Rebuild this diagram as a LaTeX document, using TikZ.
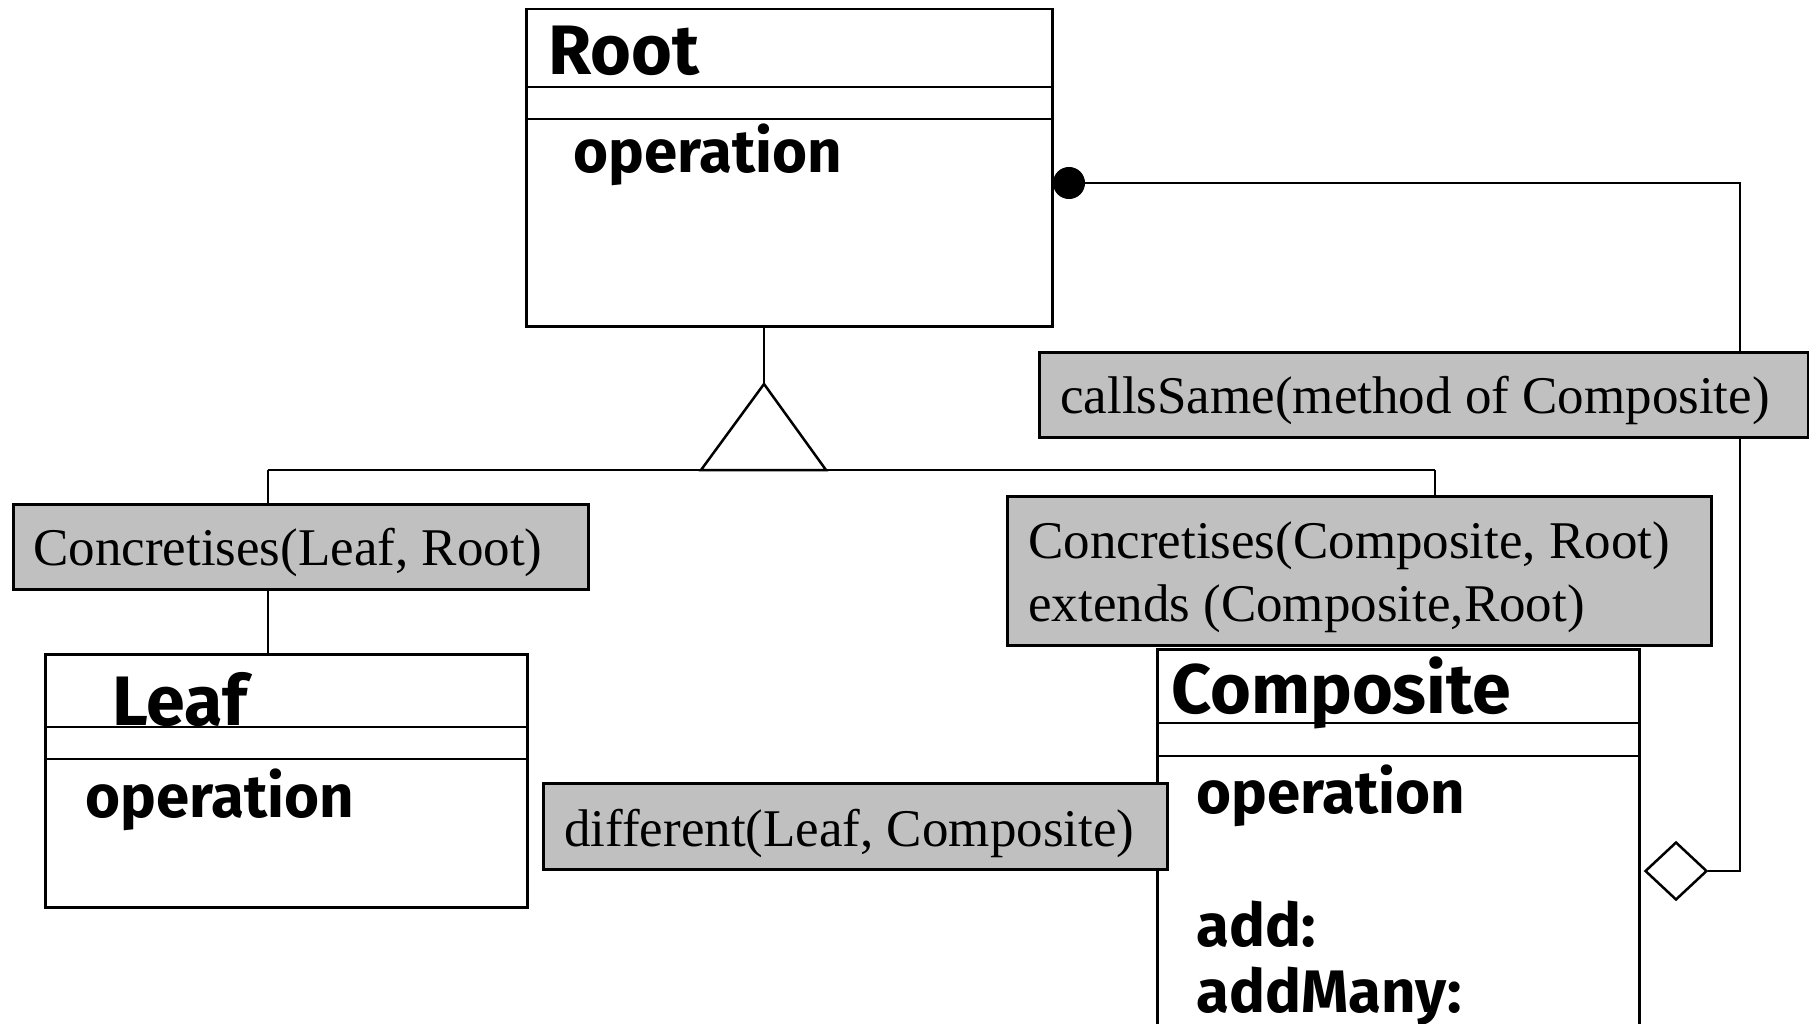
\documentclass[tikz,border=0pt]{standalone}
\usepackage{fontspec}
\setmainfont{Liberation Serif}
\newfontfamily\clsfont{Fira Sans}
\usetikzlibrary{shapes.geometric}
\definecolor{lblgray}{HTML}{C0C0C0}
\tikzset{
  every picture/.style={line width=2.5pt},
  classbox/.style={draw, line width=2.5pt, anchor=north west, inner sep=0pt},
  lblbox/.style={draw, fill=lblgray, line width=2.5pt, anchor=north west, inner sep=0pt},
  clsname/.style={anchor=base west, inner sep=0pt, font=\clsfont\bfseries\fontsize{70}{84}\selectfont},
  clsop/.style={anchor=base west, inner sep=0pt, font=\clsfont\bfseries\fontsize{60}{72}\selectfont},
  lbltext/.style={anchor=base west, inner sep=0pt, font=\fontsize{53}{64}\selectfont},
  conn/.style={draw, line width=2.5pt},
}
\begin{document}
\begin{tikzpicture}[x=1pt,y=-1pt]
\useasboundingbox (0,0) rectangle (1809,1024);
% class boxes
\node[classbox, minimum width=526pt, minimum height=317pt] (root) at (525,8) {};
\draw (525,87) -- (1051,87) (525,119) -- (1051,119);
\node[clsname] (rootname) at (547,75) {Root};
\node[clsop] (rootop) at (572,173) {operation};

\node[classbox, minimum width=482pt, minimum height=253pt] (leaf) at (44,653) {};
\draw (44,727) -- (526,727) (44,759) -- (526,759);
\node[clsname] (leafname) at (111,725) {Leaf};
\node[clsop] (leafop) at (84,817) {operation};

\node[classbox, minimum width=482pt, minimum height=420pt] (comp) at (1156,648) {};
\draw (1156,723) -- (1638,723) (1156,756) -- (1638,756);
\node[clsname] (compname) at (1170,713) {Composite};
\node[clsop] (compop) at (1195,813) {operation};
\node[clsop] (compadd) at (1195,946) {add:};
\node[clsop] (compaddm) at (1195,1012) {addMany:};

% generalization
\coordinate (apex) at (764,384);
\coordinate (bl) at (701,470);
\coordinate (br) at (826,470);
\coordinate (hl) at (268,470);
\coordinate (hr) at (1435,470);
\draw (root.south -| apex) -- (apex);
\draw (apex) -- (bl) -- (br) -- cycle;
\draw (hl) -- (hr);
\draw (hl) -- (hl |- leaf.north);

% aggregation
\node[circle, fill=black, draw, line width=1pt, minimum size=31pt, inner sep=0pt] (dot) at (1069,183) {};
\node[diamond, draw, fill=white, line width=2.5pt, minimum width=62pt, minimum height=58pt, inner sep=0pt] (dia) at (1676,871) {};
\coordinate (cr1) at (1740,183);
\coordinate (cr2) at (1740,871);
\draw (dot.east) -- (cr1) -- (cr2) -- (dia.east);

% labels
\node[lblbox, minimum width=575pt, minimum height=85pt] (l1) at (12,503) {};
\node[lbltext] (l1t) at (32,565) {Concretises(Leaf, Root)};
\draw (hr) -- (hr |- 0,495);
\node[lblbox, minimum width=769pt, minimum height=85pt] (l2) at (1038,351) {};
\node[lbltext] (l2t) at (1059,413) {callsSame(method of Composite)};
\node[lblbox, minimum width=704pt, minimum height=149pt] (l3) at (1006,495) {};
\node[lbltext] (l3t) at (1027,558) {Concretises(Composite, Root)};
\node[lbltext] (l3u) at (1027,621) {extends (Composite,Root)};
\node[lblbox, minimum width=624pt, minimum height=86pt] (l4) at (542,782) {};
\node[lbltext] (l4t) at (563,846) {different(Leaf, Composite)};
\end{tikzpicture}
\end{document}
